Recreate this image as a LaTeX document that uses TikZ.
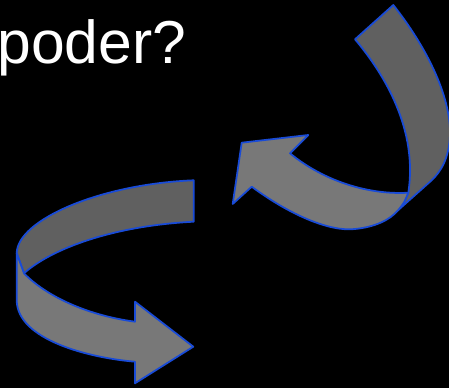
\documentclass[tikz,border=0pt]{standalone}
\usepackage{fontspec}
\setmainfont{Liberation Sans}
\usepackage{xcolor}

\definecolor{ribbonblue}{RGB}{25,75,215}
\definecolor{ribbondark}{RGB}{96,96,96}
\definecolor{ribbonlight}{RGB}{120,120,120}

\begin{document}
\begin{tikzpicture}[x=0.02cm, y=-0.02cm,
  back/.style={fill=ribbondark, draw=ribbonblue, line width=1pt, line join=round},
  front/.style={fill=ribbonlight, draw=ribbonblue, line width=1pt, line join=round}]
  \fill[black] (0,0) rectangle (449,388);
  \useasboundingbox (0,0) rectangle (449,388);
  \clip (0,0) rectangle (449,388);

  \node[anchor=base west, inner sep=0pt, text=white, font=\fontsize{34.5}{40}\selectfont] (question) at (-3,63.3) {poder?};

  % upper right arrow, back part
  \draw[back] (393.3,5) .. controls (425,45) and (451,95) .. (450,135)
    .. controls (449,160) and (440,172) .. (432,180) -- (398.3,210)
    .. controls (404,203) .. (408.3,192.7)
    .. controls (418,130) and (385,75) .. (355,39.3) -- cycle;
  % upper right arrow, front part
  \draw[front] (408.3,192.7) .. controls (370,195) and (325,182) .. (290,153.3)
    -- (308.3,135) -- (241.7,142.7) -- (232.7,204) -- (251.7,186.7)
    .. controls (290,215) and (330,232) .. (355,229)
    .. controls (375,227) and (390,220) .. (398.3,210)
    .. controls (404,203) .. (408.3,192.7) -- cycle;

  % lower left arrow, back part
  \draw[back] (193.7,180.3) .. controls (100,184) and (17,220) .. (16.7,253.3)
    -- (24,273.3) .. controls (50,250) and (110,226) .. (193.7,221.7) -- cycle;
  % lower left arrow, front part
  \draw[front] (16.7,253.3) -- (16.7,300) .. controls (16.7,340) and (90,358) .. (135,361.7)
    -- (135,383.3) -- (193.3,346.7) -- (135,301.7) -- (135,321.7)
    .. controls (85,315) and (45,295) .. (24,273.3) -- cycle;
\end{tikzpicture}
\end{document}
